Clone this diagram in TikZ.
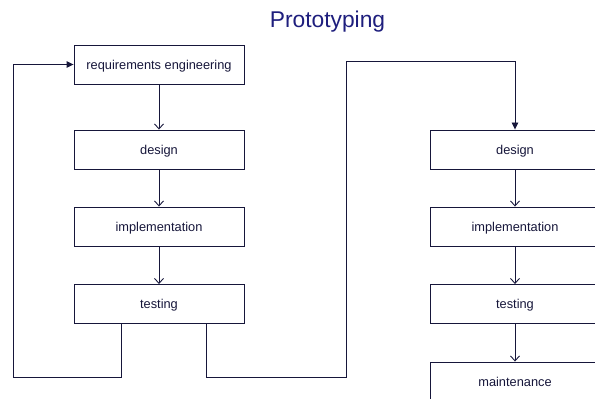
\documentclass[tikz,border=0pt]{standalone}
\usepackage{fontspec}
\setmainfont{Liberation Sans}
\usetikzlibrary{arrows.meta,calc}
\definecolor{ink}{RGB}{22,22,58}
\definecolor{titleblue}{RGB}{30,30,125}
\begin{document}
\begin{tikzpicture}[x=1pt,y=1pt,
  stage/.style={draw=ink,line width=0.9pt,minimum width=170pt,minimum height=39pt,
    inner sep=0pt,text height=10pt,text depth=0pt,
    font=\fontsize{12.8}{14}\selectfont,text=ink},
  flow/.style={draw=ink,line width=0.9pt,-{Straight Barb[length=5pt,width=9pt,line width=0.9pt]}},
  loop/.style={draw=ink,line width=0.9pt,-{Triangle[length=7pt,width=6.5pt]}}]
\useasboundingbox (0,0) rectangle (595,399);
\clip (0,0) rectangle (595,399);
\node[text=titleblue,font=\fontsize{22.8}{26}\selectfont] (title) at (327.5,377.5) {Prototyping};
% first pass
\node[stage] (req) at (159,334.5) {requirements engineering};
\node[stage] (desL) at (159,249.5) {design};
\node[stage] (impL) at (159,172.5) {implementation};
\node[stage] (tstL) at (159,95) {testing};
% final pass
\node[stage] (desR) at (515,249.5) {design};
\node[stage] (impR) at (515,172.5) {implementation};
\node[stage] (tstR) at (515,95) {testing};
\node[stage] (mnt) at (515,17.5) {maintenance};
\draw[flow] (req) -- (desL);
\draw[flow] (desL) -- (impL);
\draw[flow] (impL) -- (tstL);
\draw[flow] (desR) -- (impR);
\draw[flow] (impR) -- (tstR);
\draw[flow] (tstR) -- (mnt);
% feedback loop back to requirements
\coordinate (outA) at ($(tstL.south)+(-38,0)$);
\draw[loop] (outA) |- (13,22) |- (req.west);
% hand-over to the final design
\coordinate (outB) at ($(tstL.south)+(47,0)$);
\draw[loop] (outB) |- (346,22) |- (515,338) -- (desR.north);
\end{tikzpicture}
\end{document}
